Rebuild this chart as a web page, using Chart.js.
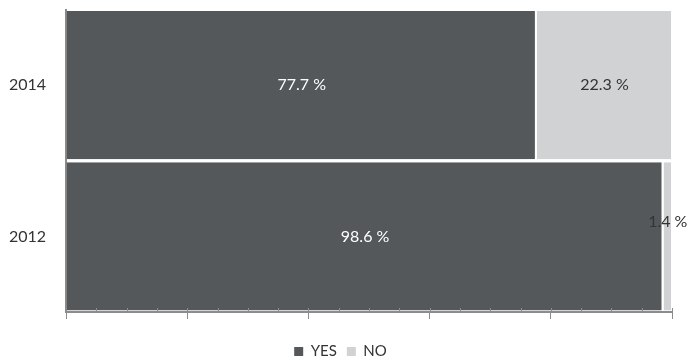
<!DOCTYPE html>
<html>
<head>
<meta charset="utf-8">
<script src="https://cdn.jsdelivr.net/npm/chart.js@4.4.1/dist/chart.umd.min.js"></script>
<style>
  html, body { margin: 0; padding: 0; background: #fff; }
  #wrap { width: 688px; height: 361px; }
</style>
</head>
<body>
<div id="wrap"><canvas id="myChart"></canvas></div>
<script>
// years, top to bottom
const years = ['2014', '2012'];
const yesValues = [77.7, 98.6];
const noValues = [22.3, 1.4];
const xTicks = [0, 20, 40, 60, 80, 100];

const yesColor = '#55585b';
const noColor = '#d1d2d4';
const axisColor = '#8c8c8c';
const fontFamily = 'Lato, "Open Sans", sans-serif';

// writes the percent inside each segment
const segmentLabels = {
  id: 'segmentLabels',
  afterDatasetsDraw(chart) {
    const ctx = chart.ctx;
    ctx.save();
    ctx.font = '16px ' + fontFamily;
    ctx.textAlign = 'center';
    ctx.textBaseline = 'middle';
    chart.data.datasets.forEach((ds, i) => {
      chart.getDatasetMeta(i).data.forEach((bar, j) => {
        const cx = (bar.x + bar.base) / 2;
        const narrow = Math.abs(bar.x - bar.base) < 40;
        ctx.fillStyle = i === 0 ? '#ffffff' : '#333333';
        ctx.fillText(ds.data[j].toFixed(1) + ' %', cx, narrow ? bar.y - 15 : bar.y);
      });
    });
    ctx.restore();
  }
};

// small tick marks along the bottom axis (every 5)
const minorTicks = {
  id: 'minorTicks',
  afterDraw(chart) {
    const x = chart.scales.x;
    const ctx = chart.ctx;
    ctx.save();
    ctx.strokeStyle = axisColor;
    ctx.lineWidth = 1;
    for (let v = 0; v <= 100; v += 5) {
      const px = Math.round(x.getPixelForValue(v)) + 0.5;
      ctx.beginPath();
      ctx.moveTo(px, x.top - 4);
      ctx.lineTo(px, x.top);
      ctx.stroke();
    }
    ctx.restore();
  }
};

let canva = document.getElementById('myChart').getContext('2d');

let myChart = new Chart(canva, {
  type: 'bar',
  data: {
    labels: years,
    datasets: [
      {
        label: 'YES',
        backgroundColor: yesColor,
        borderColor: '#ffffff',
        borderWidth: { top: 0, bottom: 0, left: 0, right: 2 },
        borderSkipped: false,
        data: yesValues
      },
      {
        label: 'NO',
        backgroundColor: noColor,
        borderColor: '#ffffff',
        borderWidth: { top: 0, bottom: 0, left: 0, right: 1 },
        borderSkipped: false,
        data: noValues
      }
    ]
  },
  plugins: [segmentLabels, minorTicks],
  options: {
    indexAxis: 'y',
    responsive: true,
    maintainAspectRatio: false,
    animation: false,
    layout: { autoPadding: false, padding: { top: -1, left: 9, right: 16, bottom: -8 } },
    datasets: {
      bar: { barPercentage: 0.98, categoryPercentage: 1 }
    },
    scales: {
      x: {
        stacked: true,
        min: 0,
        max: 100,
        afterBuildTicks: (axis) => { axis.ticks = xTicks.map(v => ({ value: v })); },
        afterFit: (axis) => { axis.height = 22; },
        ticks: { display: false },
        grid: { drawOnChartArea: false, drawTicks: true, tickLength: 7, color: axisColor, lineWidth: 1 },
        border: { display: true, color: axisColor, width: 2 }
      },
      y: {
        stacked: true,
        ticks: {
          color: '#333333',
          padding: 0,
          font: { size: 16, family: fontFamily }
        },
        grid: { display: false, drawTicks: true, tickLength: 20 },
        border: { display: true, color: axisColor, width: 2 }
      }
    },
    plugins: {
      tooltip: { enabled: false },
      legend: {
        position: 'bottom',
        labels: {
          color: '#333333',
          boxWidth: 9,
          boxHeight: 9,
          padding: 10,
          font: { size: 15, family: fontFamily },
          generateLabels: (chart) => Chart.defaults.plugins.legend.labels.generateLabels(chart)
            .map(l => Object.assign(l, { lineWidth: 0, strokeStyle: 'transparent' }))
        }
      }
    }
  }
});
</script>
</body>
</html>
